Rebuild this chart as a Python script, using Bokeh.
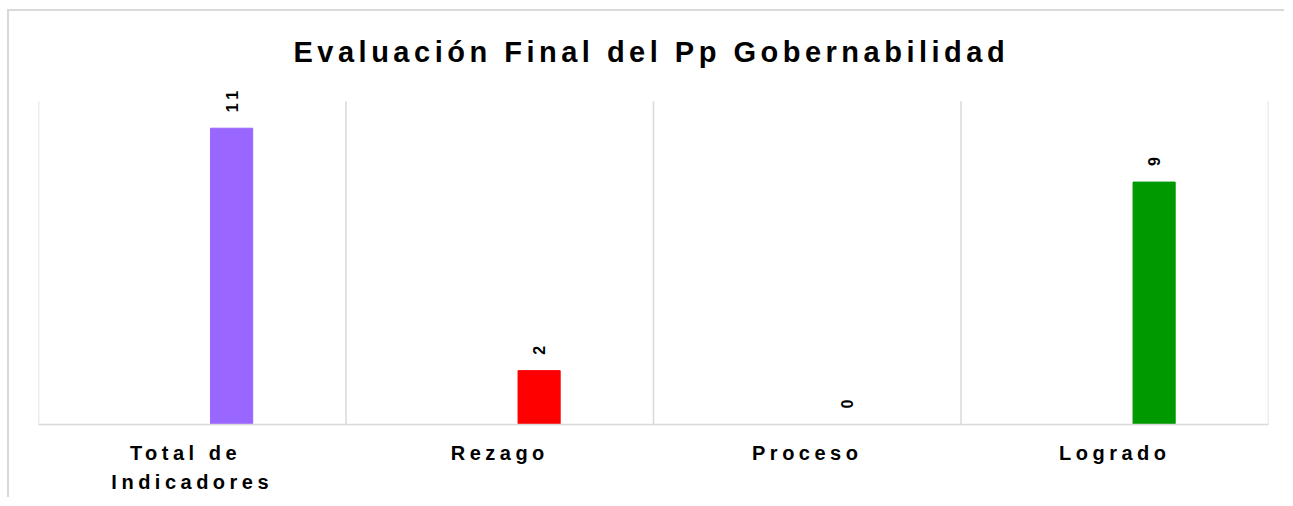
import math
from bokeh.plotting import figure
from bokeh.models import ColumnDataSource, Range1d, FixedTicker
from bokeh.transform import dodge
from bokeh.embed import file_html
from bokeh.resources import INLINE
from bokeh.core.properties import value

# ---- data ----
categories = ["Total de Indicadores", "Rezago", "Proceso", "Logrado"]
category_labels = ["Total de\nIndicadores", "Rezago", "Proceso", "Logrado"]
values = [11, 2, 0, 9]
bar_colors = ["#9966FF", "#FF0000", "#FFC000", "#009900"]
value_labels = ["11", "2", "0", "9"]
y_max = 12
title_text = "Evaluación Final del Pp Gobernabilidad"

FONT = "Liberation Sans"
LS = 4.5          # letter spacing (px)
W, H = 1277, 488
MB_L, MB_R, MB_T, MB_B = 29, 18, 78, 75
Y_END = 12.4      # headroom above the last grid line for the rotated labels

n = len(categories)
centers = [i + 0.5 for i in range(n)]   # category slots on a 0..n axis
src = ColumnDataSource(dict(cat=categories, pos=centers, val=values,
                            color=bar_colors, label=value_labels))

p = figure(
    x_range=Range1d(0, n),
    y_range=Range1d(0, Y_END),
    width=W, height=H,
    output_backend="svg", toolbar_location=None,
    min_border_left=MB_L, min_border_right=MB_R, min_border_top=MB_T, min_border_bottom=MB_B,
    styles={"letter-spacing": f"{LS}px",
            "margin-left": "7px", "margin-top": "9px",
            "border-top": "2px solid #d9d9d9",
            "border-left": "2px solid #d9d9d9"},
)
p.outline_line_color = None
p.background_fill_color = "white"
p.border_fill_color = "white"

# title
p.title.text = title_text
p.title.align = "left"
p.title.text_font = FONT
p.title.text_font_size = "29px"
p.title.text_font_style = "bold"
p.title.text_color = "black"
p.title.standoff = 45
p.title.offset = 255

# no y axis, no grids
p.yaxis.visible = False
p.ygrid.visible = False
p.xgrid.visible = False

# vertical separators between categories
bounds = list(range(n + 1))
p.segment(x0=bounds, x1=bounds, y0=[0] * (n + 1), y1=[y_max] * (n + 1),
          line_color="#d9d9d9", line_width=1.5)

# category axis; tick placed to compensate the letter-spacing shift of centred labels
cat_px = (W - MB_L - MB_R) / n
ticks, overrides = [], {}
for c, lab in zip(centers, category_labels):
    longest = max(len(s) for s in lab.split("\n"))
    t = round(c - (longest * LS / 2) / cat_px, 4)
    ticks.append(t)
    overrides[t] = lab
ax = p.xaxis[0]
ax.ticker = FixedTicker(ticks=ticks)
ax.major_label_overrides = overrides
ax.axis_line_color = "#d9d9d9"
ax.axis_line_width = 1.5
ax.major_tick_line_color = None
ax.minor_tick_line_color = None
ax.major_label_text_font = FONT
ax.major_label_text_font_size = "20px"
ax.major_label_text_font_style = "bold"
ax.major_label_text_color = "black"
ax.major_label_standoff = 11
ax.major_label_text_line_height = 1.32

# bars
xpos = dodge("pos", 0.128)
p.vbar(x=xpos, top="val", width=0.137, color="color", source=src)

# value labels
p.text(x=xpos, y="val", text="label", source=src,
       angle=math.pi / 2, text_align="left", text_baseline="middle",
       y_offset=-16, text_font=value(FONT), text_font_style="bold",
       text_font_size="16px", text_color="black")

open("out.html", "w").write(file_html(p, INLINE))
